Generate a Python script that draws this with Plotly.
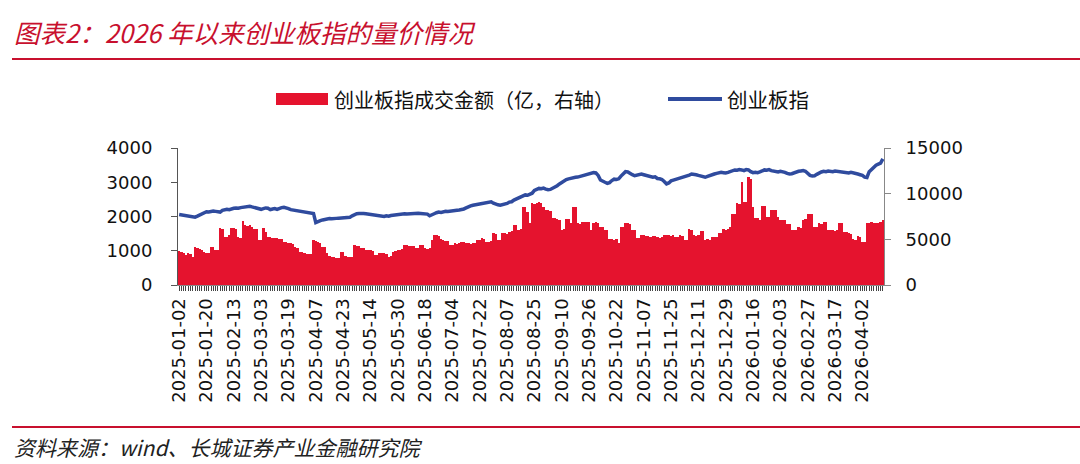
import datetime as dt
import plotly.graph_objects as go

# ---------------- data ----------------
start_date = "2025-01-02"
closed_days = [
    "2025-01-01", "2025-01-28", "2025-01-29", "2025-01-30", "2025-01-31", "2025-02-03", "2025-02-04",
    "2025-04-04", "2025-05-01", "2025-05-02", "2025-05-05", "2025-06-02",
    "2025-10-01", "2025-10-02", "2025-10-03", "2025-10-06", "2025-10-07", "2025-10-08",
    "2026-01-01", "2026-01-02", "2026-02-16", "2026-02-17", "2026-02-18", "2026-02-19",
    "2026-02-20", "2026-02-23", "2026-04-06",
]

# 创业板指成交金额（亿，右轴）
turnover = [
    3720, 3650, 3500, 3290, 3450, 3400, 3100, 4120, 4050, 3900,
    3800, 3600, 3500, 3550, 4200, 4150, 3850, 3800, 6200, 6100,
    5300, 5250, 5500, 6250, 6200, 6150, 5300, 5200, 7000, 6600,
    6500, 6550, 6300, 6150, 6100, 4950, 4900, 6200, 5800, 5300,
    5250, 5200, 5100, 5150, 5050, 5000, 4750, 4700, 4650, 4560,
    4500, 4200, 4100, 3650, 3600, 3450, 3400, 3350, 3400, 4930,
    4800, 4700, 4560, 4200, 4150, 3470, 3150, 3100, 3050, 2920,
    2950, 3650, 3600, 3200, 3100, 3050, 3100, 4380, 4300, 4250,
    4020, 4000, 3850, 3800, 3830, 3750, 3290, 3250, 3540, 3500,
    3450, 3400, 3100, 3150, 3650, 3700, 3850, 3800, 3900, 4380,
    4400, 4300, 4250, 4300, 4000, 4050, 4380, 4350, 4020, 3950,
    4000, 4930, 5470, 5500, 5400, 5000, 4930, 4850, 4800, 4380,
    4350, 4560, 4500, 4600, 4750, 4700, 4560, 4600, 4500, 4550,
    4600, 4930, 4900, 5110, 5050, 4750, 4700, 4800, 5650, 5600,
    4930, 4900, 5650, 5700, 5600, 5840, 5900, 6570, 6600, 6020,
    6100, 8570, 8500, 8030, 6750, 8940, 8900, 9000, 9050, 9010,
    8570, 8250, 8210, 8150, 7300, 7350, 7250, 7120, 6020, 6100,
    7190, 7200, 6750, 8570, 8500, 6750, 6700, 6930, 6900, 6950,
    6850, 6020, 6820, 6850, 6800, 6300, 6350, 6020, 6000, 5000,
    5050, 4950, 5000, 4560, 6300, 6350, 6750, 6800, 6700, 6020,
    6000, 5110, 5150, 5470, 5450, 5400, 5360, 5300, 5350, 5400,
    5220, 5200, 5250, 5470, 5450, 5500, 5400, 5450, 5290, 5300,
    5470, 5400, 4930, 4950, 6090, 6000, 5470, 5400, 5450, 5940,
    5900, 4930, 5000, 4950, 5290, 5250, 5300, 5650, 5700, 6090,
    6050, 6100, 6390, 7770, 7800, 8940, 8900, 11310, 9130, 9100,
    11790, 11600, 8570, 7300, 7350, 7120, 8640, 8600, 7480, 7500,
    8210, 8250, 8200, 7410, 7120, 7100, 7150, 6680, 6700, 6020,
    6050, 6000, 6300, 6250, 7120, 7200, 7770, 7800, 7750, 6390,
    6400, 6750, 6700, 6930, 6900, 6050, 6000, 6020, 5950, 6000,
    6820, 6800, 5840, 5800, 5650, 5600, 5000, 4950, 5360, 5300,
    4750, 4700, 6820, 6800, 6850, 6800, 6750, 6800, 6850, 7120,
]

# 创业板指（左轴）
index_close = [
    2060, 2050, 2040, 2010, 2000, 1990, 1975, 1980, 2010, 2040,
    2080, 2110, 2140, 2130, 2150, 2160, 2150, 2140, 2130, 2180,
    2200, 2210, 2200, 2230, 2240, 2250, 2240, 2260, 2270, 2280,
    2290, 2300, 2280, 2260, 2250, 2230, 2210, 2230, 2250, 2240,
    2200, 2220, 2230, 2210, 2240, 2260, 2270, 2260, 2230, 2200,
    2190, 2180, 2170, 2160, 2150, 2150, 2140, 2130, 2120, 2090,
    1820, 1860, 1880, 1900, 1920, 1930, 1940, 1935, 1950, 1945,
    1950, 1960, 1955, 1970, 1975, 1980, 2020, 2060, 2080, 2090,
    2100, 2090, 2080, 2070, 2050, 2040, 2030, 2020, 2010, 2015,
    2000, 2020, 2010, 2030, 2040, 2050, 2060, 2070, 2060, 2080,
    2070, 2080, 2090, 2090, 2085, 2095, 2090, 2080, 2085, 2070,
    2020, 2040, 2080, 2110, 2130, 2120, 2140, 2150, 2145, 2160,
    2170, 2165, 2180, 2190, 2200, 2220, 2250, 2290, 2310, 2330,
    2340, 2350, 2370, 2380, 2390, 2400, 2420, 2430, 2390, 2360,
    2340, 2330, 2340, 2350, 2380, 2420, 2430, 2480, 2510, 2530,
    2560, 2600, 2630, 2620, 2640, 2680, 2760, 2800, 2820, 2810,
    2830, 2800, 2780, 2790, 2820, 2870, 2900, 2950, 3000, 3060,
    3080, 3100, 3120, 3140, 3145, 3150, 3170, 3180, 3210, 3220,
    3240, 3260, 3280, 3270, 3200, 3065, 3020, 3000, 2970, 2990,
    3050, 3090, 3080, 3100, 3180, 3260, 3310, 3300, 3250, 3220,
    3190, 3210, 3230, 3240, 3220, 3200, 3180, 3150, 3145, 3160,
    3110, 3100, 3080, 3020, 2950, 2980, 3040, 3060, 3080, 3100,
    3110, 3130, 3150, 3180, 3210, 3240, 3240, 3220, 3200, 3180,
    3160, 3145, 3170, 3200, 3220, 3240, 3260, 3280, 3290, 3280,
    3270, 3290, 3320, 3340, 3360, 3350, 3370, 3360, 3340, 3370,
    3360, 3310, 3280, 3290, 3280, 3300, 3340, 3360, 3350, 3370,
    3340, 3320, 3310, 3300, 3320, 3310, 3290, 3260, 3240, 3250,
    3280, 3300, 3320, 3330, 3340, 3320, 3260, 3200, 3180, 3190,
    3230, 3270, 3300, 3320, 3310, 3330, 3320, 3310, 3330, 3320,
    3300, 3290, 3280, 3280, 3270, 3290, 3280, 3260, 3240, 3220,
    3200, 3150, 3140, 3310, 3380, 3450, 3500, 3530, 3560, 3680,
]

left_ticks = [0, 1000, 2000, 3000, 4000]
right_ticks = [0, 5000, 10000, 15000]
label_every = 12

title_text = "图表2：2026 年以来创业板指的量价情况"
legend_bar = "创业板指成交金额（亿，右轴）"
legend_line = "创业板指"
source_text = "资料来源：wind、长城证券产业金融研究院"

# ---------------- trading calendar (category labels) ----------------
closed = set(closed_days)
dates = []
d = dt.date.fromisoformat(start_date)
while len(dates) < len(turnover):
    s = d.isoformat()
    if d.weekday() < 5 and s not in closed:
        dates.append(s)
    d += dt.timedelta(days=1)
ticktext = [s if i % label_every == 0 else "" for i, s in enumerate(dates)]

# ---------------- layout helpers ----------------
W, H = 1080, 464
L, R, T, B = 178, 884, 148, 285


def px(x):
    return (x - L) / (R - L)


def py(y):
    return (B - y) / (B - T)


RED = "#E5132E"
BLUE = "#2F4B9E"
TITLE_RED = "#C8102E"
CJK = "Noto Sans CJK SC"
NUM = "DejaVu Sans"

fig = go.Figure()
fig.add_trace(go.Bar(x=dates, y=turnover, name=legend_bar, marker_color=RED,
                     marker_line_width=0, yaxis="y"))
fig.add_trace(go.Scatter(x=dates, y=index_close, name=legend_line, mode="lines",
                         line=dict(color=BLUE, width=3.5), yaxis="y2"))

fig.update_layout(
    width=W, height=H,
    margin=dict(l=L, r=W - R, t=T, b=H - B, pad=0),
    paper_bgcolor="white", plot_bgcolor="white",
    showlegend=False, bargap=0,
    xaxis=dict(type="category", tickmode="array", tickvals=dates, ticktext=ticktext,
               tickangle=-90, ticks="outside", ticklen=5, tickwidth=1, tickcolor="#444",
               showline=True, linecolor="#888", linewidth=1, showgrid=False,
               range=[-0.5, len(dates) - 0.5],
               tickfont=dict(family=NUM, size=18, color="#111")),
    yaxis=dict(side="right", range=[0, 15000], tickvals=right_ticks, tickformat="d",
               ticks="outside", ticklen=6, tickcolor="#888", showline=True,
               linecolor="#888", linewidth=1, showgrid=False, zeroline=False,
               ticklabelstandoff=11,
               tickfont=dict(family=NUM, size=18, color="#111")),
    yaxis2=dict(side="left", overlaying="y", range=[0, 4000], tickvals=left_ticks,
                tickformat="d", ticks="outside", ticklen=6, tickcolor="#555",
                showline=True, linecolor="#555", linewidth=1, showgrid=False,
                zeroline=False, ticklabelstandoff=15,
                tickfont=dict(family=NUM, size=18, color="#111")),
)

shapes = [
    dict(type="line", xref="paper", yref="paper", x0=px(12), x1=px(1080), y0=py(59), y1=py(59),
         line=dict(color=TITLE_RED, width=2)),
    dict(type="line", xref="paper", yref="paper", x0=px(12), x1=px(1080), y0=py(427), y1=py(427),
         line=dict(color=TITLE_RED, width=2)),
    dict(type="rect", xref="paper", yref="paper", x0=px(276), x1=px(328), y0=py(105), y1=py(93),
         fillcolor=RED, line=dict(width=0)),
    dict(type="line", xref="paper", yref="paper", x0=px(668), x1=px(722), y0=py(99), y1=py(99),
         line=dict(color=BLUE, width=4)),
]
fig.update_layout(shapes=shapes)

annotations = [
    dict(text="<i>" + title_text + "</i>", x=px(12), y=py(32), xref="paper", yref="paper",
         xanchor="left", yanchor="middle", showarrow=False,
         font=dict(family=CJK, size=25.5, color=TITLE_RED)),
    dict(text=legend_bar, x=px(332), y=py(99), xref="paper", yref="paper",
         xanchor="left", yanchor="middle", showarrow=False,
         font=dict(family=CJK, size=20, color="#111")),
    dict(text=legend_line, x=px(725), y=py(99), xref="paper", yref="paper",
         xanchor="left", yanchor="middle", showarrow=False,
         font=dict(family=CJK, size=20.5, color="#111")),
    dict(text="<i>" + source_text + "</i>", x=px(12), y=py(447), xref="paper", yref="paper",
         xanchor="left", yanchor="middle", showarrow=False,
         font=dict(family=CJK, size=21, color="#222")),
]
fig.update_layout(annotations=annotations)

fig.write_html("out.html")
